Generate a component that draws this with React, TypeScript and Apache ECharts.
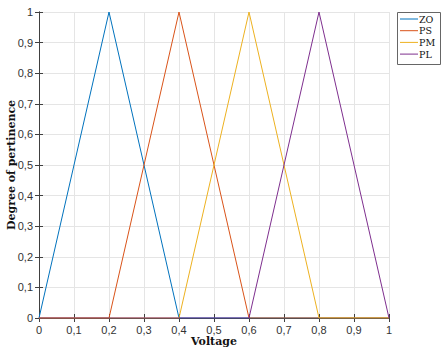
import React, { useEffect, useRef } from "react";
import * as echarts from "echarts";

const voltage = [0, 0.2, 0.4, 0.6, 0.8, 1];
const seriesNames = ["ZO", "PS", "PM", "PL"];
const zo = [0, 1, 0, 0, 0, 0];
const ps = [0, 0, 1, 0, 0, 0];
const pm = [0, 0, 0, 1, 0, 0];
const pl = [0, 0, 0, 0, 1, 0];
const colors = ["#0072BD", "#D95319", "#EDB120", "#7E2F8E"];

const fmt = (v: number) => {
  const r = Math.round(v * 10) / 10;
  return String(r).replace(".", ",");
};

export default function App() {
  const ref = useRef<HTMLDivElement>(null);
  useEffect(() => {
    if (!ref.current) return;
    const chart = echarts.init(ref.current, undefined, { renderer: "svg" });
    const values = [zo, ps, pm, pl];
    const axisLine = { show: true, lineStyle: { color: "#404040", width: 1 } };
    const tick = { show: true, inside: true, length: 4, lineStyle: { color: "#404040" } };
    const labelStyle = { color: "#333", fontSize: 11, fontFamily: "Liberation Sans, Arial, sans-serif" };
    const rowH = 11.7;
    const legendEls: any[] = [
      {
        type: "rect",
        shape: { x: 397.5, y: 12.5, width: 43, height: 52 },
        style: { fill: "#fff", stroke: "#666", lineWidth: 1 },
        z: 100,
      },
    ];
    seriesNames.forEach((name, i) => {
      const cy = 19 + i * rowH;
      legendEls.push({
        type: "line",
        shape: { x1: 400, y1: cy, x2: 418, y2: cy },
        style: { stroke: colors[i], lineWidth: 1 },
        z: 101,
      });
      legendEls.push({
        type: "text",
        x: 419,
        y: cy,
        style: {
          text: name,
          fill: "#111",
          fontSize: 9.5,
          fontFamily: "DejaVu Serif, serif",
          verticalAlign: "middle",
          align: "left",
        },
        z: 101,
      });
    });
    chart.setOption({
      animation: false,
      backgroundColor: "#fff",
      grid: { left: 39, top: 12, right: 57, bottom: 33, containLabel: false, outerBoundsMode: "none" },
      graphic: legendEls,
      xAxis: [
        {
          type: "value",
          min: 0,
          max: 1,
          interval: 0.1,
          name: "Voltage",
          nameLocation: "middle",
          nameGap: 18,
          nameMoveOverlap: false,
          nameTextStyle: { color: "#111", fontSize: 11, fontWeight: "bold", fontFamily: "DejaVu Serif, serif" },
          axisLine,
          axisTick: tick,
          axisLabel: { ...labelStyle, margin: 6, formatter: fmt },
          splitLine: { show: true, lineStyle: { color: "#e5e5e5" } },
        },
        {
          type: "value",
          position: "top",
          min: 0,
          max: 1,
          interval: 0.1,
          axisLine,
          axisTick: tick,
          axisLabel: { show: false },
          splitLine: { show: false },
        },
      ],
      yAxis: [
        {
          type: "value",
          min: 0,
          max: 1,
          interval: 0.1,
          name: "Degree of pertinence",
          nameLocation: "middle",
          nameGap: 22,
          nameMoveOverlap: false,
          nameTextStyle: { color: "#111", fontSize: 11, fontWeight: "bold", fontFamily: "DejaVu Serif, serif" },
          axisLine,
          axisTick: tick,
          axisLabel: { ...labelStyle, margin: 6, formatter: fmt },
          splitLine: { show: true, lineStyle: { color: "#e5e5e5" } },
        },
        {
          type: "value",
          position: "right",
          min: 0,
          max: 1,
          interval: 0.1,
          axisLine,
          axisTick: tick,
          axisLabel: { show: false },
          splitLine: { show: false },
        },
      ],
      series: seriesNames.map((name, i) => ({
        name,
        type: "line",
        symbol: "none",
        color: colors[i],
        lineStyle: { width: 1, color: colors[i] },
        data: voltage.map((x, j) => [x, values[i][j]]),
      })),
    });
    return () => chart.dispose();
  }, []);
  return <div ref={ref} style={{ width: 446, height: 351, position: "absolute", left: 0, top: 0 }} />;
}
